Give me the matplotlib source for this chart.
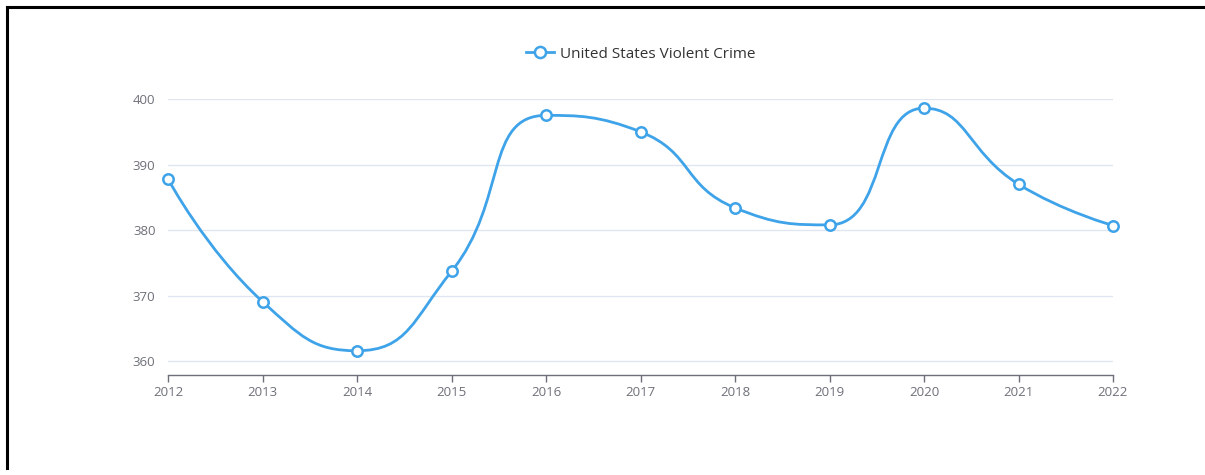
import numpy as np
import matplotlib
matplotlib.use("Agg")
import matplotlib.pyplot as plt
from matplotlib.path import Path
from matplotlib.patches import PathPatch
from matplotlib.lines import Line2D

# =========================
# DATA
# =========================
years = [2012, 2013, 2014, 2015, 2016, 2017, 2018, 2019, 2020, 2021, 2022]
crime_rate = [387.8, 369.1, 361.6, 373.7, 397.5, 395.0, 383.4, 380.8, 398.6, 387.0, 380.7]
series_name = "United States Violent Crime"
y_ticks = [360, 370, 380, 390, 400]

BLUE = "#3ea3e8"
AXIS = "#6e7079"
GRID = "#e0e6f1"

plt.rcParams["font.family"] = ["Open Sans", "DejaVu Sans"]

fig = plt.figure(figsize=(12.05, 4.75), dpi=100)
ax = fig.add_axes([168 / 1205, 100 / 475, (1113 - 168) / 1205, (375 - 99) / 475])

x = np.arange(len(years))
ax.set_xlim(0, len(years) - 1)
ax.set_ylim(357.9, 400)

# grid + axes style
ax.set_yticks(y_ticks)
ax.set_xticks(x)
ax.set_xticklabels([str(y) for y in years])
ax.grid(axis="y", color=GRID, linewidth=1)
ax.set_axisbelow(True)
for s in ["top", "right", "left"]:
    ax.spines[s].set_visible(False)
ax.spines["bottom"].set_color(AXIS)
ax.spines["bottom"].set_linewidth(1)
ax.tick_params(axis="x", colors=AXIS, length=5, width=1, labelsize=9.5, pad=3)
ax.tick_params(axis="y", colors=AXIS, length=0, labelsize=9.5, pad=9)


# =========================
# SMOOTH LINE (same idea as the echarts bezier, in pixel space)
# =========================
def smooth_path(pts, smooth=0.5):
    n = len(pts)
    verts = [pts[0]]
    codes = [Path.MOVETO]
    cp0 = pts[0].copy()
    for i in range(1, n):
        p = pts[i]
        prev = pts[i - 1]
        if i == n - 1:
            cp1 = p.copy()
            nxt_cp0 = p.copy()
        else:
            nxt = pts[i + 1]
            v = nxt - prev
            d0 = np.hypot(*(p - prev))
            d1 = np.hypot(*(nxt - p))
            r = d1 / (d0 + d1)
            cp1 = p - v * smooth * (1 - r)
            nxt_cp0 = p + v * smooth * r
            # keep control points between neighbours (no overshoot)
            nxt_cp0 = np.minimum(nxt_cp0, np.maximum(nxt, p))
            nxt_cp0 = np.maximum(nxt_cp0, np.minimum(nxt, p))
            v = nxt_cp0 - p
            cp1 = p - v * d0 / d1
            cp1 = np.minimum(cp1, np.maximum(prev, p))
            cp1 = np.maximum(cp1, np.minimum(prev, p))
            v = p - cp1
            nxt_cp0 = p + v * d1 / d0
        verts += [cp0, cp1, p]
        codes += [Path.CURVE4] * 3
        cp0 = nxt_cp0
    return np.array(verts), codes


pts = ax.transData.transform(np.column_stack([x, crime_rate]))
verts, codes = smooth_path(pts)
verts = ax.transData.inverted().transform(verts)
ax.add_patch(PathPatch(Path(verts, codes), facecolor="none", edgecolor=BLUE,
                       linewidth=2, transform=ax.transData, zorder=3, clip_on=False))

ax.plot(x, crime_rate, linestyle="none", marker="o", markersize=7.5,
        markerfacecolor="white", markeredgecolor=BLUE, markeredgewidth=1.8,
        zorder=4, clip_on=False)

# =========================
# LEGEND
# =========================
handle = Line2D([0], [0], color=BLUE, linewidth=2, marker="o", markersize=8,
                markerfacecolor="white", markeredgecolor=BLUE, markeredgewidth=1.8)
fig.legend([handle], [series_name], loc="center", bbox_to_anchor=(641 / 1205, 1 - 54 / 475),
           frameon=False, fontsize=11, handlelength=1.8, handletextpad=0.4,
           labelcolor="#333333")

# border
fig.add_artist(Line2D([7 / 1205, 7 / 1205], [1 - 468 / 475, 1 - 6.5 / 475],
                      color="black", linewidth=2.2, transform=fig.transFigure))
fig.add_artist(Line2D([7 / 1205, 1.0], [1 - 6.5 / 475, 1 - 6.5 / 475],
                      color="black", linewidth=2.2, transform=fig.transFigure))

fig.savefig("out.png", dpi=100)
